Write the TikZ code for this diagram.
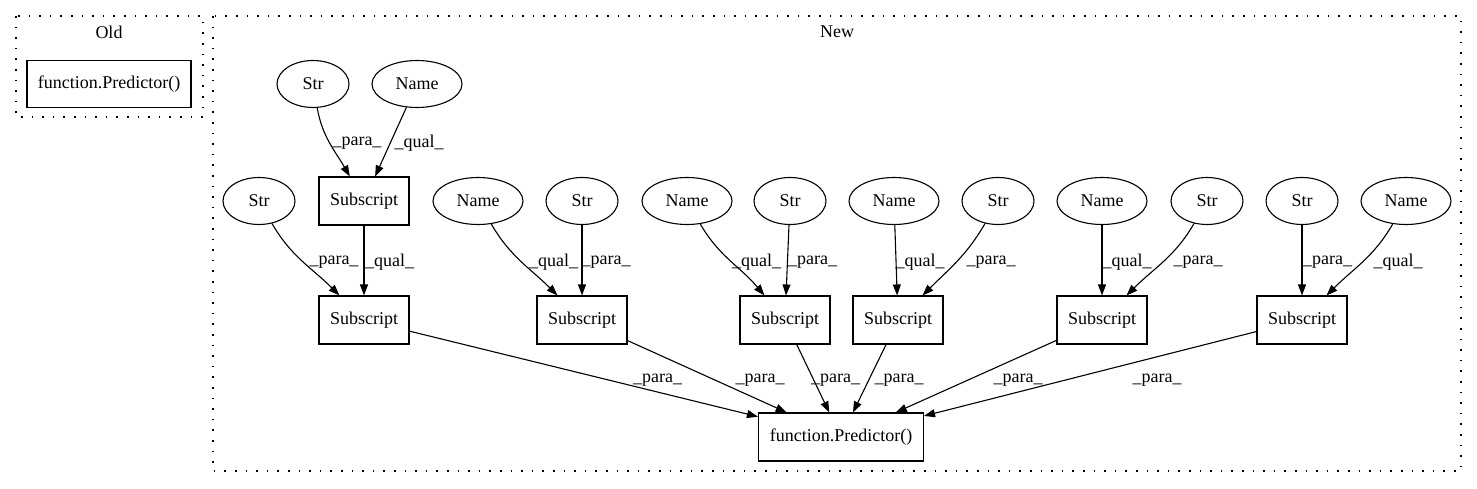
\documentclass[tikz,border=0pt]{standalone}
\usepackage{fontspec}
\setmainfont{Liberation Serif}
\usetikzlibrary{arrows.meta,shapes.geometric}
\tikzset{
  every node/.style={font=\fontsize{18}{20}\selectfont},
  cluster/.style={draw, line width=1.1pt, dash pattern=on 1.6pt off 9pt},
  strnode/.style={draw, ellipse, line width=1.1pt, minimum width=72pt, minimum height=47pt, inner sep=0pt},
  namenode/.style={draw, ellipse, line width=1.1pt, minimum width=90pt, minimum height=47pt, inner sep=0pt},
  subbox/.style={draw, rectangle, line width=1.1pt, minimum width=90pt, minimum height=48pt, inner sep=0pt},
  predbox/.style={draw, rectangle, line width=1.1pt, minimum width=165pt, minimum height=48pt, inner sep=0pt},
  lbl/.style={inner sep=0pt},
  conn/.style={line width=1.1pt, -{Triangle[length=11pt,width=8pt]}}
}
\begin{document}
\begin{tikzpicture}[x=1pt,y=1pt]
\useasboundingbox (0,0) rectangle (1477,488);
% clusters
\draw[cluster] (16,472) rectangle (203,371);
\draw[cluster] (213,472) rectangle (1461,17);
\node[lbl] (toldl) at (109,456) {Old};
\node[lbl] (tnew) at (837,456) {New};
% old
\node[predbox, minimum width=164pt, minimum height=47pt] (oldpred) at (109,404) {function.Predictor()};
% top row
\node[strnode] (s1) at (313,404) {Str};
\node[namenode] (n1) at (417,404) {Name};
% second row
\node[strnode] (s2) at (259,287) {Str};
\node[subbox] (sub1) at (364,287) {Subscript};
\node[namenode] (n2) at (478,287) {Name};
\node[strnode] (s3) at (582,287) {Str};
\node[namenode] (n3) at (687,287) {Name};
\node[strnode] (s4) at (790,287) {Str};
\node[namenode] (n4) at (894,287) {Name};
\node[strnode] (s5) at (998,287) {Str};
\node[namenode] (n5) at (1102,287) {Name};
\node[strnode] (s6) at (1207,287) {Str};
\node[strnode] (s7) at (1302,287) {Str};
\node[namenode] (n7) at (1406,287) {Name};
% third row
\node[subbox] (sub2) at (364,168) {Subscript};
\node[subbox] (sub3) at (582,168) {Subscript};
\node[subbox] (sub4) at (785,168) {Subscript};
\node[subbox] (sub5) at (898,168) {Subscript};
\node[subbox] (sub6) at (1102,168) {Subscript};
\node[subbox] (sub7) at (1302,168) {Subscript};
% bottom
\node[predbox] (pred) at (841,51) {function.Predictor()};
% edges top
\draw[conn] (s1) to[out=-80,in=120] (sub1);
\draw[conn] (n1) -- (sub1);
\draw[conn] (sub1) -- (sub2);
\draw[conn] (s2) to[out=-60,in=135] (sub2);
\draw[conn] (n2) to[out=-60,in=135] (sub3);
\draw[conn] (s3) -- (sub3);
\draw[conn] (n3) to[out=-60,in=130] (sub4);
\draw[conn] (s4) -- (sub4);
\draw[conn] (n4) -- (sub5);
\draw[conn] (s5) to[out=-120,in=45] (sub5);
\draw[conn] (n5) -- (sub6);
\draw[conn] (s6) to[out=-120,in=45] (sub6);
\draw[conn] (s7) -- (sub7);
\draw[conn] (n7) to[out=-120,in=45] (sub7);
% edges bottom
\draw[conn] (sub2) -- (pred);
\draw[conn] (sub3) -- (pred);
\draw[conn] (sub4) -- (pred);
\draw[conn] (sub5) -- (pred);
\draw[conn] (sub6) -- (pred);
\draw[conn] (sub7) -- (pred);
% labels
\node[lbl] (l1) at (357,345) {\_para\_};
\node[lbl] (l2) at (419,345) {\_qual\_};
\node[lbl] (l3) at (334,226) {\_para\_};
\node[lbl] (l4) at (389.5,226) {\_qual\_};
\node[lbl] (l5) at (553.5,226) {\_qual\_};
\node[lbl] (l6) at (606,226) {\_para\_};
\node[lbl] (l7) at (756.5,226) {\_qual\_};
\node[lbl] (l8) at (812.5,226) {\_para\_};
\node[lbl] (l9) at (920,226) {\_qual\_};
\node[lbl] (l10) at (991,226) {\_para\_};
\node[lbl] (l11) at (1127,226) {\_qual\_};
\node[lbl] (l12) at (1198,226) {\_para\_};
\node[lbl] (l13) at (1327.5,226) {\_para\_};
\node[lbl] (l14) at (1398,226) {\_qual\_};
\node[lbl] (l15) at (657.5,108) {\_para\_};
\node[lbl] (l16) at (760,108) {\_para\_};
\node[lbl] (l17) at (835.5,108) {\_para\_};
\node[lbl] (l18) at (899,108) {\_para\_};
\node[lbl] (l19) at (1018,108) {\_para\_};
\node[lbl] (l20) at (1157,108) {\_para\_};
\end{tikzpicture}
\end{document}
